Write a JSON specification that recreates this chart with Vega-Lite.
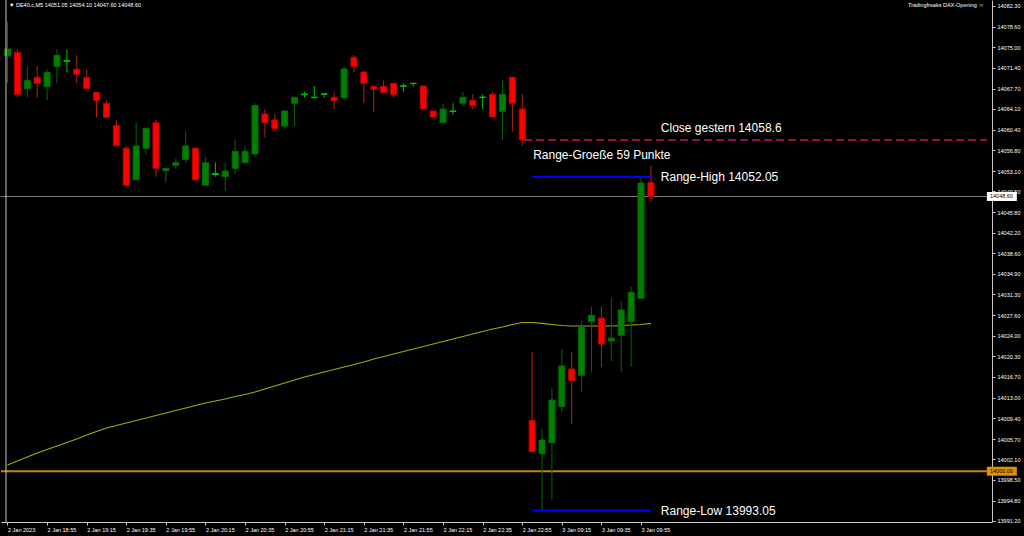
{
  "$schema": "https://vega.github.io/schema/vega-lite/v6.json",
  "width": 991,
  "height": 522,
  "autosize": {"type": "none"},
  "padding": {"left": 1, "top": 0, "right": 32, "bottom": 14},
  "background": "#000000",
  "config": {"view": {"stroke": null}, "font": "Liberation Sans", "axis": {"labelOverlap": false, "labelFlush": false, "labelBound": false}},
  "datasets": {
    "candles": [
      {"i":0,"o":14073.45,"h":14079.47,"l":14068.68,"c":14074.69,"dir":"up","ma":14001.10},
      {"i":1,"o":14074.11,"h":14074.64,"l":14066.15,"c":14066.68,"dir":"down","ma":14001.81},
      {"i":2,"o":14067.67,"h":14071.63,"l":14066.15,"c":14069.16,"dir":"up","ma":14002.52},
      {"i":3,"o":14069.69,"h":14071.63,"l":14066.15,"c":14068.63,"dir":"down","ma":14003.23},
      {"i":4,"o":14068.02,"h":14071.10,"l":14065.62,"c":14070.57,"dir":"up","ma":14003.85},
      {"i":5,"o":14071.63,"h":14074.64,"l":14068.63,"c":14073.58,"dir":"up","ma":14004.47},
      {"i":6,"o":14072.52,"h":14074.64,"l":14070.57,"c":14072.69,"dir":"doji","ma":14005.08},
      {"i":7,"o":14071.10,"h":14073.58,"l":14068.63,"c":14070.22,"dir":"down","ma":14005.70},
      {"i":8,"o":14069.62,"h":14071.10,"l":14067.67,"c":14067.67,"dir":"down","ma":14006.41},
      {"i":9,"o":14067.03,"h":14067.03,"l":14062.61,"c":14065.62,"dir":"down","ma":14007.03},
      {"i":10,"o":14065.09,"h":14065.62,"l":14062.61,"c":14062.61,"dir":"down","ma":14007.65},
      {"i":11,"o":14061.13,"h":14062.13,"l":14057.59,"c":14057.59,"dir":"down","ma":14008.09},
      {"i":12,"o":14057.13,"h":14057.53,"l":14050.58,"c":14050.58,"dir":"down","ma":14008.53},
      {"i":13,"o":14051.57,"h":14061.73,"l":14051.57,"c":14057.53,"dir":"up","ma":14008.98},
      {"i":14,"o":14057.13,"h":14060.67,"l":14056.12,"c":14060.67,"dir":"up","ma":14009.42},
      {"i":15,"o":14061.66,"h":14062.13,"l":14052.10,"c":14053.59,"dir":"down","ma":14009.86},
      {"i":16,"o":14053.17,"h":14053.59,"l":14051.11,"c":14053.59,"dir":"up","ma":14010.30},
      {"i":17,"o":14054.12,"h":14055.23,"l":14053.59,"c":14054.58,"dir":"up","ma":14010.74},
      {"i":18,"o":14055.11,"h":14060.19,"l":14054.58,"c":14057.53,"dir":"up","ma":14011.19},
      {"i":19,"o":14057.13,"h":14057.13,"l":14051.57,"c":14051.57,"dir":"down","ma":14011.63},
      {"i":20,"o":14050.58,"h":14055.59,"l":14050.58,"c":14054.58,"dir":"up","ma":14012.07},
      {"i":21,"o":14052.49,"h":14054.65,"l":14052.10,"c":14052.67,"dir":"doji","ma":14012.43},
      {"i":22,"o":14052.10,"h":14054.58,"l":14049.63,"c":14053.11,"dir":"up","ma":14012.78},
      {"i":23,"o":14053.59,"h":14058.60,"l":14052.58,"c":14056.60,"dir":"up","ma":14013.22},
      {"i":24,"o":14054.58,"h":14057.59,"l":14054.58,"c":14056.60,"dir":"up","ma":14013.57},
      {"i":25,"o":14056.12,"h":14065.11,"l":14055.59,"c":14064.70,"dir":"up","ma":14014.02},
      {"i":26,"o":14063.19,"h":14064.08,"l":14059.07,"c":14061.66,"dir":"down","ma":14014.55},
      {"i":27,"o":14062.13,"h":14063.19,"l":14060.06,"c":14060.59,"dir":"down","ma":14015.08},
      {"i":28,"o":14061.07,"h":14063.73,"l":14060.59,"c":14063.73,"dir":"up","ma":14015.61},
      {"i":29,"o":14065.09,"h":14066.15,"l":14061.07,"c":14066.15,"dir":"up","ma":14016.14},
      {"i":30,"o":14066.59,"h":14067.14,"l":14066.08,"c":14066.73,"dir":"doji","ma":14016.67},
      {"i":31,"o":14066.08,"h":14068.15,"l":14066.08,"c":14066.17,"dir":"doji","ma":14017.11},
      {"i":32,"o":14066.68,"h":14066.77,"l":14066.08,"c":14066.77,"dir":"doji","ma":14017.56},
      {"i":33,"o":14066.15,"h":14067.03,"l":14064.08,"c":14065.55,"dir":"down","ma":14018.00},
      {"i":34,"o":14066.08,"h":14071.63,"l":14065.67,"c":14071.16,"dir":"up","ma":14018.44},
      {"i":35,"o":14073.23,"h":14073.63,"l":14070.57,"c":14071.56,"dir":"down","ma":14018.88},
      {"i":36,"o":14070.62,"h":14070.62,"l":14065.09,"c":14068.63,"dir":"down","ma":14019.32},
      {"i":37,"o":14068.10,"h":14068.10,"l":14063.60,"c":14067.62,"dir":"down","ma":14019.86},
      {"i":38,"o":14068.10,"h":14069.16,"l":14067.03,"c":14067.03,"dir":"down","ma":14020.30},
      {"i":39,"o":14068.63,"h":14068.63,"l":14066.08,"c":14066.68,"dir":"down","ma":14020.74},
      {"i":40,"o":14068.10,"h":14068.63,"l":14067.03,"c":14068.18,"dir":"doji","ma":14021.18},
      {"i":41,"o":14068.55,"h":14068.64,"l":14068.02,"c":14068.64,"dir":"doji","ma":14021.62},
      {"i":42,"o":14068.15,"h":14068.15,"l":14064.08,"c":14064.08,"dir":"down","ma":14022.07},
      {"i":43,"o":14063.73,"h":14063.73,"l":14062.66,"c":14062.66,"dir":"down","ma":14022.51},
      {"i":44,"o":14061.66,"h":14065.09,"l":14061.66,"c":14064.08,"dir":"up","ma":14022.95},
      {"i":45,"o":14063.64,"h":14065.09,"l":14063.07,"c":14063.73,"dir":"doji","ma":14023.39},
      {"i":46,"o":14065.09,"h":14067.09,"l":14064.61,"c":14066.15,"dir":"up","ma":14023.84},
      {"i":47,"o":14065.62,"h":14066.68,"l":14064.08,"c":14064.66,"dir":"down","ma":14024.28},
      {"i":48,"o":14066.10,"h":14066.68,"l":14064.08,"c":14066.19,"dir":"doji","ma":14024.72},
      {"i":49,"o":14066.68,"h":14067.14,"l":14062.66,"c":14062.66,"dir":"down","ma":14025.16},
      {"i":50,"o":14063.67,"h":14069.16,"l":14058.60,"c":14066.68,"dir":"up","ma":14025.52},
      {"i":51,"o":14069.69,"h":14069.69,"l":14060.06,"c":14065.09,"dir":"down","ma":14025.96},
      {"i":52,"o":14064.08,"h":14066.73,"l":14057.59,"c":14058.60,"dir":"down","ma":14026.31},
      {"i":53,"o":14009.01,"h":14021.04,"l":14003.46,"c":14003.46,"dir":"down","ma":14026.31},
      {"i":54,"o":14003.10,"h":14007.53,"l":13993.05,"c":14005.53,"dir":"up","ma":14026.14},
      {"i":55,"o":14005.05,"h":14014.67,"l":13994.91,"c":14012.60,"dir":"up","ma":14025.96},
      {"i":56,"o":14011.42,"h":14021.62,"l":14010.43,"c":14018.62,"dir":"up","ma":14025.78},
      {"i":57,"o":14018.09,"h":14021.04,"l":14008.41,"c":14016.02,"dir":"down","ma":14025.69},
      {"i":58,"o":14016.97,"h":14026.58,"l":14014.02,"c":14025.57,"dir":"up","ma":14025.69},
      {"i":59,"o":14026.45,"h":14029.11,"l":14017.50,"c":14027.59,"dir":"up","ma":14025.69},
      {"i":60,"o":14027.11,"h":14029.11,"l":14018.49,"c":14022.51,"dir":"down","ma":14025.69},
      {"i":61,"o":14023.04,"h":14030.65,"l":14019.50,"c":14023.57,"dir":"up","ma":14025.69},
      {"i":62,"o":14024.05,"h":14030.11,"l":14017.50,"c":14028.52,"dir":"up","ma":14025.78},
      {"i":63,"o":14026.45,"h":14032.64,"l":14018.49,"c":14031.65,"dir":"up","ma":14025.87},
      {"i":64,"o":14030.59,"h":14052.05,"l":14030.59,"c":14050.99,"dir":"up","ma":14025.96},
      {"i":65,"o":14051.05,"h":14054.10,"l":14047.60,"c":14048.60,"dir":"down","ma":14026.14}
    ],
    "segments": [
      {"name":"close","from":52.2,"to":98.95,"v":14058.6},
      {"name":"high","from":53,"to":65,"v":14052.05},
      {"name":"low","from":53,"to":65,"v":13993.05}
    ],
    "notes": [
      {"t":"Close gestern 14058.6","x":66,"v":14060.75},
      {"t":"Range-Groeße 59 Punkte","x":53.1,"v":14055.9},
      {"t":"Range-High 14052.05","x":66,"v":14052.05},
      {"t":"Range-Low 13993.05","x":66,"v":13993.0}
    ],
    "tags": [
      {"k":"bid","v":14048.6,"t":"14048.60"},
      {"k":"ref","v":14000.0,"t":"14000.00"}
    ]
  },
  "layer": [
    {
      "data": {"name": "candles"},
      "mark": {"type": "point", "opacity": 0},
      "encoding": {
        "x": {"field": "i", "type": "quantitative", "scale": {"domain": [-0.15, 98.95], "zero": false, "nice": false},
          "axis": {"orient": "bottom", "title": null, "grid": false, "tickCount": 40,
            "values": [0,4,8,12,16,20,24,28,32,36,40,44,48,52,56,60,64],
            "labelExpr": "['2 Jan 2023','2 Jan 18:55','2 Jan 19:15','2 Jan 19:35','2 Jan 19:55','2 Jan 20:15','2 Jan 20:35','2 Jan 20:55','2 Jan 21:15','2 Jan 21:35','2 Jan 21:55','2 Jan 22:15','2 Jan 22:35','2 Jan 22:55','3 Jan 09:15','3 Jan 09:35','3 Jan 09:55'][round(datum.value/4)]",
            "labelAlign": "left", "labelBaseline": "top", "labelPadding": 2, "labelColor": "#ffffff", "labelFontSize": 5.5,
            "tickColor": "#c8c8c8", "tickSize": 3, "domainColor": "#c8c8c8", "labelFlush": false, "labelOverlap": false}},
        "y": {"field": "c", "type": "quantitative", "scale": {"domain": [13991.02, 14083.36], "zero": false, "nice": false},
          "axis": {"orient": "right", "title": null, "grid": false, "tickCount": 40,
            "values": [14082.3,14078.6,14075.0,14071.4,14067.7,14064.1,14060.4,14056.8,14053.1,14049.5,14045.8,14042.2,14038.6,14034.9,14031.3,14027.6,14024.0,14020.3,14016.7,14013.0,14009.4,14005.7,14002.1,13998.5,13994.8,13991.2],
            "format": ".2f", "labelColor": "#ffffff", "labelFontSize": 5.5, "labelPadding": 2, "labelBaseline": "middle",
            "tickColor": "#c8c8c8", "tickSize": 3, "domainColor": "#c8c8c8", "labelFlush": false, "labelOverlap": false}}
      }
    },
    {
      "data": {"name": "tags"},
      "mark": {"type": "rule", "clip": true},
      "encoding": {
        "y": {"field": "v", "type": "quantitative"},
        "color": {"condition": {"test": "datum.k === 'ref'", "value": "#c88200"}, "value": "#7c7c8e"},
        "strokeWidth": {"condition": {"test": "datum.k === 'ref'", "value": 2}, "value": 1}
      }
    },
    {
      "data": {"name": "candles"},
      "encoding": {
        "x": {"field": "i", "type": "quantitative"}
      },
      "layer": [
        {
          "mark": {"type": "line", "color": "#a8a800", "strokeWidth": 1.2, "clip": true},
          "encoding": {"y": {"field": "ma", "type": "quantitative"}}
        },
        {
          "mark": {"type": "rule", "strokeWidth": 1, "clip": true},
          "encoding": {
            "y": {"field": "l", "type": "quantitative"},
            "y2": {"field": "h"},
            "stroke": {"condition": [{"test": "datum.dir === 'down'", "value": "#b02800"}, {"test": "datum.dir === 'doji'", "value": "#00c000"}], "value": "#006c00"}
          }
        },
        {
          "mark": {"type": "bar", "size": 6, "strokeWidth": 1, "clip": true},
          "encoding": {
            "y": {"field": "o", "type": "quantitative"},
            "y2": {"field": "c"},
            "fill": {"condition": [{"test": "datum.dir === 'down'", "value": "#ff0000"}, {"test": "datum.dir === 'doji'", "value": "#00c000"}], "value": "#008000"},
            "stroke": {"condition": [{"test": "datum.dir === 'down'", "value": "#c00000"}, {"test": "datum.dir === 'doji'", "value": "#00c000"}], "value": "#006c00"}
          }
        }
      ]
    },
    {
      "data": {"name": "segments"},
      "mark": {"type": "rule"},
      "encoding": {
        "x": {"field": "from", "type": "quantitative"},
        "x2": {"field": "to"},
        "y": {"field": "v", "type": "quantitative"},
        "color": {"condition": {"test": "datum.name === 'close'", "value": "#c8146e"}, "value": "#0000ff"},
        "strokeWidth": {"condition": {"test": "datum.name === 'close'", "value": 1.5}, "value": 2},
        "strokeDash": {"condition": {"test": "datum.name === 'close'", "value": [8, 4]}, "value": [1, 0]}
      }
    },
    {
      "data": {"name": "notes"},
      "mark": {"type": "text", "align": "left", "baseline": "middle", "fontSize": 12, "font": "Liberation Sans", "color": "#ffffff"},
      "encoding": {
        "x": {"field": "x", "type": "quantitative"},
        "y": {"field": "v", "type": "quantitative"},
        "text": {"field": "t"}
      }
    },
    {
      "data": {"name": "tags"},
      "mark": {"type": "tick", "orient": "horizontal", "size": 30, "thickness": 9, "opacity": 1},
      "encoding": {
        "x": {"datum": 100.45, "type": "quantitative"},
        "y": {"field": "v", "type": "quantitative"},
        "color": {"condition": {"test": "datum.k === 'ref'", "value": "#e09000"}, "value": "#ffffff"}
      }
    },
    {
      "data": {"name": "tags"},
      "mark": {"type": "text", "align": "left", "baseline": "middle", "fontSize": 5.5, "color": "#000000"},
      "encoding": {
        "x": {"datum": 99.25, "type": "quantitative"},
        "y": {"field": "v", "type": "quantitative"},
        "text": {"field": "t"}
      }
    },
    {
      "data": {"values": [{"t": "▼ DE40.c,M5  14051.05 14054.10 14047.60 14048.60"}]},
      "mark": {"type": "text", "align": "left", "baseline": "middle", "fontSize": 5.5, "color": "#ffffff"},
      "encoding": {
        "x": {"datum": 0.15, "type": "quantitative"},
        "y": {"datum": 14082.5, "type": "quantitative"},
        "text": {"field": "t"}
      }
    },
    {
      "data": {"values": [{"t": "Tradingfreaks DAX-Opening ☺"}]},
      "mark": {"type": "text", "align": "right", "baseline": "middle", "fontSize": 5.5, "color": "#ffffff"},
      "encoding": {
        "x": {"datum": 98.65, "type": "quantitative"},
        "y": {"datum": 14082.5, "type": "quantitative"},
        "text": {"field": "t"}
      }
    },
    {
      "data": {"values": [{"edge": -0.15}]},
      "mark": {"type": "rule", "color": "#c8c8c8", "strokeWidth": 1},
      "encoding": {"x": {"field": "edge", "type": "quantitative"}}
    }
  ]
}
